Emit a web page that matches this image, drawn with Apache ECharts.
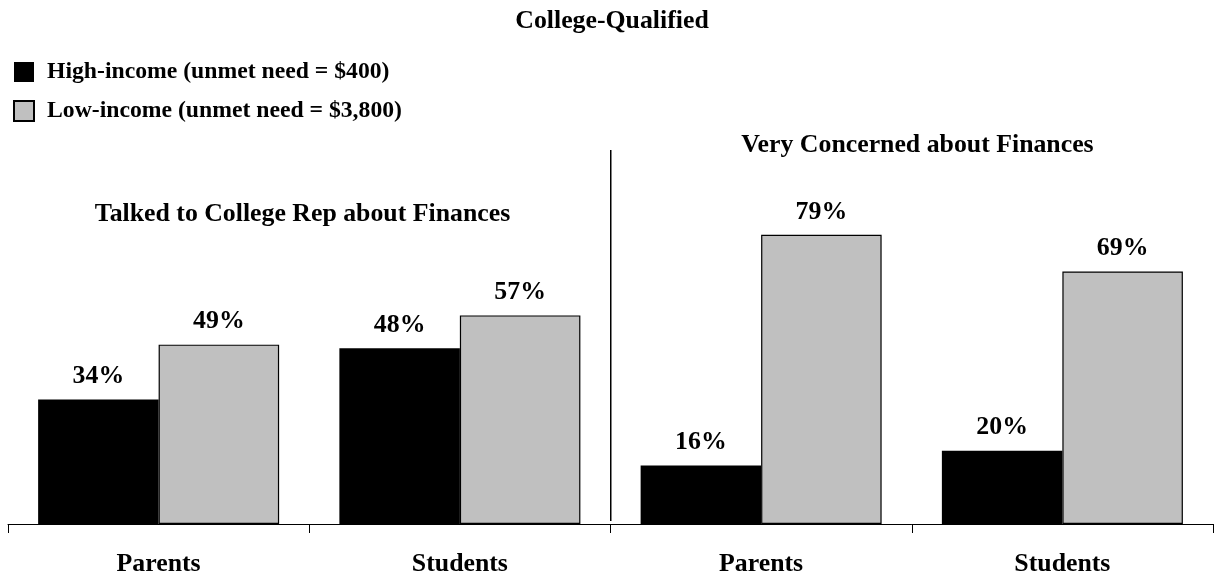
<!DOCTYPE html>
<html>
<head>
<meta charset="utf-8">
<script src="https://cdn.jsdelivr.net/npm/echarts@6/dist/echarts.min.js"></script>
<style>
html,body{margin:0;padding:0;background:#fff;}
#chart{width:1225px;height:577px;}
</style>
</head>
<body>
<div id="chart"></div>
<script>
var categories = ['Parents', 'Students', 'Parents', 'Students'];
var highIncome = [34, 48, 16, 20];
var lowIncome = [49, 57, 79, 69];
var seriesNames = ['High-income (unmet need = $400)', 'Low-income (unmet need = $3,800)'];
var mainTitle = 'College-Qualified';
var groupTitles = ['Talked to College Rep about Finances', 'Very Concerned about Finances'];

var FONT = "'Liberation Serif', 'Times New Roman', serif";
var chart = echarts.init(document.getElementById('chart'));

var labelOpt = {
  show: true,
  position: 'top',
  distance: 10,
  formatter: '{c}%',
  fontFamily: FONT,
  fontWeight: 'bold',
  fontSize: 25.8,
  color: '#000'
};

chart.setOption({
  animation: false,
  backgroundColor: '#fff',
  grid: { left: 8, right: 12, top: 158, bottom: 51, containLabel: false },
  legend: {
    orient: 'vertical',
    left: 13,
    top: 60,
    padding: 0,
    itemWidth: 20,
    itemHeight: 20,
    itemGap: 15,
    icon: 'rect',
    selectedMode: false,
    textStyle: {
      fontFamily: FONT,
      fontWeight: 'bold',
      fontSize: 23.7,
      lineHeight: 20,
      color: '#000',
      padding: [0, 0, 2, 8]
    },
    data: seriesNames
  },
  xAxis: {
    type: 'category',
    data: categories,
    boundaryGap: true,
    axisLine: { show: true, lineStyle: { color: '#000', width: 1 } },
    axisTick: { show: true, length: 9, lineStyle: { color: '#000', width: 1 } },
    axisLabel: {
      margin: 27,
      fontFamily: FONT,
      fontWeight: 'bold',
      fontSize: 25.8,
      color: '#000'
    }
  },
  yAxis: {
    type: 'value',
    min: 0,
    max: 100,
    show: false,
    splitLine: { show: false }
  },
  series: [
    {
      name: seriesNames[0],
      type: 'bar',
      data: highIncome,
      barGap: '0%',
      barCategoryGap: '20%',
      itemStyle: { color: '#000000', borderColor: '#000000', borderWidth: 0 },
      label: labelOpt
    },
    {
      name: seriesNames[1],
      type: 'bar',
      data: lowIncome,
      barGap: '0%',
      barCategoryGap: '20%',
      itemStyle: { color: '#c0c0c0', borderColor: '#000000', borderWidth: 1.2 },
      label: labelOpt
    }
  ],
  graphic: [
    {
      type: 'text',
      x: 612, y: 8,
      style: { text: mainTitle, fontFamily: FONT, fontWeight: 'bold', fontSize: 25.8, fill: '#000', align: 'center', verticalAlign: 'top' }
    },
    {
      type: 'text',
      x: 302.5, y: 201,
      style: { text: groupTitles[0], fontFamily: FONT, fontWeight: 'bold', fontSize: 25.8, fill: '#000', align: 'center', verticalAlign: 'top' }
    },
    {
      type: 'text',
      x: 917.5, y: 132.5,
      style: { text: groupTitles[1], fontFamily: FONT, fontWeight: 'bold', fontSize: 25.8, fill: '#000', align: 'center', verticalAlign: 'top' }
    },
    {
      type: 'line',
      shape: { x1: 610.75, y1: 150, x2: 610.75, y2: 521 },
      style: { stroke: '#000', lineWidth: 1.5 }
    }
  ]
});
</script>
</body>
</html>
